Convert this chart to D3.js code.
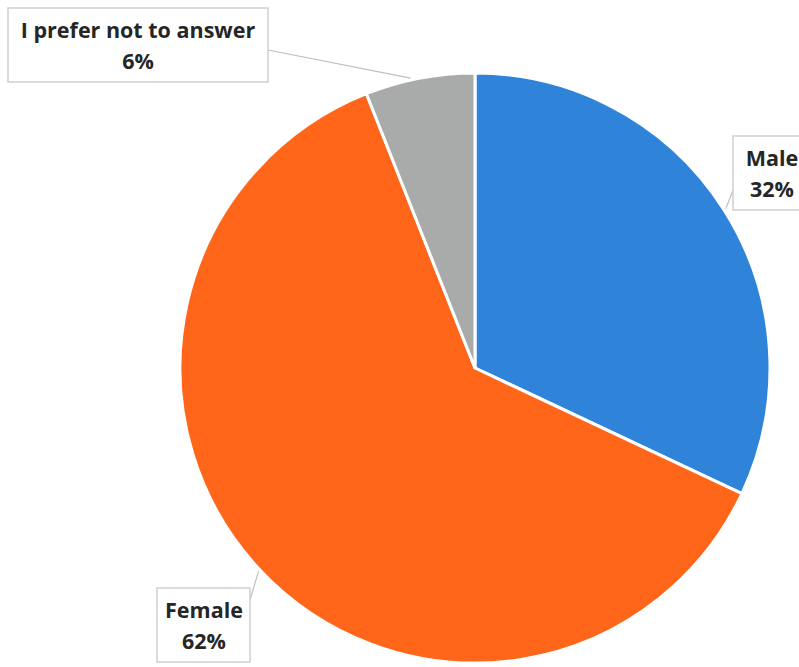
<!DOCTYPE html>
<html><head><meta charset="utf-8">
<script src="https://cdn.jsdelivr.net/npm/d3@7"></script>
<style>body{margin:0;background:#fff}svg{display:block}</style>
</head><body>
<svg id="c" width="799" height="667"></svg>
<script>
const categories = ["Male", "Female", "I prefer not to answer"];
const values = [32, 62, 6];
const colors = ["#2F84DA", "#FF661A", "#A9AAAA"];

const svg = d3.select("#c");
const cx = 475, cy = 368, R = 295;
const pie = d3.pie().sort(null).value(d => d.v);
const data = pie(categories.map((c, i) => ({c, v: values[i], col: colors[i]})));
const arc = d3.arc().innerRadius(0).outerRadius(R);
const g = svg.append("g").attr("transform", `translate(${cx},${cy})`);
g.selectAll("path").data(data).join("path")
  .attr("d", arc).attr("fill", d => d.data.col)
  .attr("stroke", "#fff").attr("stroke-width", 3).attr("stroke-linejoin", "round");

// label boxes (layout)
const boxes = [
  {x: 733, y: 136, w: 90, h: 74, lx: 733, ly: 190, frac: 0.5, tx: 772},
  {x: 157, y: 588, w: 93, h: 74, lx: 250, ly: 600, frac: 0.5, tx: 204},
  {x: 8, y: 8, w: 260, h: 74, lx: 268, ly: 50, frac: 0.42, tx: 138}
];
data.forEach((d, i) => {
  const b = boxes[i];
  const a = d.startAngle + (d.endAngle - d.startAngle) * b.frac;
  const px = cx + Math.sin(a) * (R + 2), py = cy - Math.cos(a) * (R + 2);
  svg.append("line").attr("x1", b.lx).attr("y1", b.ly).attr("x2", px).attr("y2", py)
    .attr("stroke", "#BFBFBF").attr("stroke-width", 1.2);
  svg.append("rect").attr("x", b.x).attr("y", b.y).attr("width", b.w).attr("height", b.h)
    .attr("fill", "#fff").attr("stroke", "#CFCFCF").attr("stroke-width", 1.5);
  const t = svg.append("text").attr("text-anchor", "middle")
    .attr("font-family", "'Open Sans', sans-serif").attr("font-weight", "bold")
    .attr("font-size", 21.5).attr("fill", "#262626");
  t.append("tspan").attr("x", b.tx).attr("y", b.y + 30).text(d.data.c);
  t.append("tspan").attr("x", b.tx).attr("y", b.y + 61).text(d3.format(".0f")(d.data.v) + "%");
});
</script>
</body></html>
